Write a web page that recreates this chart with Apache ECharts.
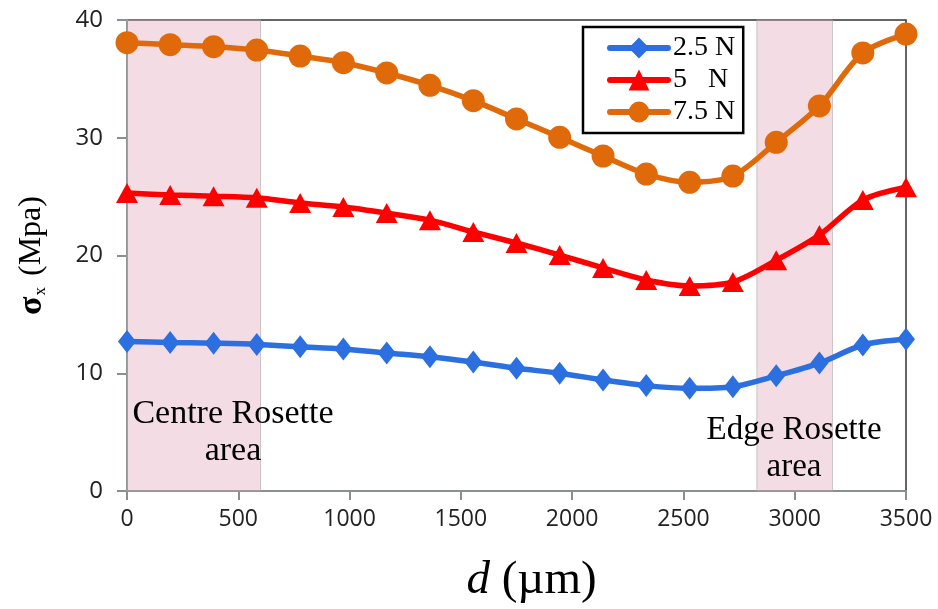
<!DOCTYPE html>
<html>
<head>
<meta charset="utf-8">
<script src="https://cdn.jsdelivr.net/npm/echarts@6/dist/echarts.min.js"></script>
<style>
  html, body { margin: 0; padding: 0; background: #fff; }
  #chart { width: 938px; height: 609px; }
</style>
</head>
<body>
<div id="chart"></div>
<script>
// Distance from the centre (µm)
const distance = [0, 194, 389, 583, 778, 972, 1167, 1361, 1556, 1750, 1944, 2139, 2333, 2528, 2722, 2917, 3111, 3306, 3500];

// σx (MPa) for each applied load
const load25 = [12.7, 12.62, 12.55, 12.45, 12.25, 12.06, 11.72, 11.4, 10.95, 10.42, 10.0, 9.43, 8.95, 8.72, 8.86, 9.78, 10.86, 12.4, 12.88];
const load5 = [25.31, 25.14, 25.04, 24.9, 24.46, 24.12, 23.6, 23.0, 22.0, 21.06, 20.04, 18.94, 17.92, 17.41, 17.75, 19.6, 21.74, 24.71, 25.8];
const load75 = [38.07, 37.9, 37.73, 37.45, 36.94, 36.37, 35.5, 34.45, 33.15, 31.6, 30.04, 28.45, 26.92, 26.22, 26.75, 29.61, 32.7, 37.2, 38.81];

const seriesNames = ['2.5 N', '5   N', '7.5 N'];

// Shaded rosette regions along d (µm)
const bands = [[0, 600], [2830, 3170]];
const bandLabels = [
  { text: 'Centre Rosette\narea', at: [476, 5.0], size: 34 },
  { text: 'Edge Rosette\narea', at: [2997, 3.6], size: 33 }
];

const serif = "'Liberation Serif', 'DejaVu Serif', serif";
const sans = "'Open Sans', 'Noto Sans', sans-serif";

const pair = (xs, ys) => xs.map((x, i) => [x, ys[i]]);

const chart = echarts.init(document.getElementById('chart'), null, { renderer: 'canvas' });

function lineSeries(name, values, color, symbol, size) {
  return {
    name: name,
    type: 'line',
    data: pair(distance, values),
    smooth: 0.3,
    symbol: symbol,
    symbolSize: size,
    showAllSymbol: true,
    lineStyle: { color: color, width: 5.5 },
    itemStyle: { color: color },
    z: 3
  };
}

chart.setOption({
  animation: false,
  backgroundColor: '#ffffff',
  grid: {
    left: 127, right: 32, top: 20, bottom: 118,
    show: true, borderColor: '#333', borderWidth: 1.5,
    backgroundColor: 'transparent'
  },
  legend: {
    data: seriesNames,
    orient: 'vertical',
    left: 583, top: 27,
    width: 160,
    padding: [7, 8, 7, 24],
    itemGap: 4,
    itemWidth: 58, itemHeight: 26,
    backgroundColor: '#fff',
    borderColor: '#000', borderWidth: 2.5,
    lineStyle: { width: 6, cap: 'round' },
    textStyle: { fontFamily: serif, fontSize: 28, color: '#000' }
  },
  xAxis: {
    type: 'value',
    min: 0, max: 3500, interval: 500,
    name: '{i|d} (µm)',
    nameLocation: 'middle',
    nameGap: 66,
    nameTextStyle: {
      fontFamily: serif, fontSize: 47, color: '#000',
      padding: [0, 0, 0, 30],
      rich: { i: { fontFamily: serif, fontSize: 47, fontStyle: 'italic', color: '#000' } }
    },
    axisLine: { show: true, lineStyle: { color: '#8a9090', width: 2 } },
    axisTick: { show: true, length: 9, lineStyle: { color: '#8a9090', width: 2 } },
    axisLabel: { fontFamily: sans, fontSize: 23, color: '#222', margin: 17, formatter: v => String(v) },
    splitLine: { show: false }
  },
  yAxis: {
    type: 'value',
    min: 0, max: 40, interval: 10,
    name: '{s|σ}{sub|x} (Mpa)',
    nameLocation: 'middle',
    nameRotate: 90,
    nameGap: 78,
    nameTextStyle: {
      fontFamily: serif, fontSize: 32, color: '#000',
      rich: {
        s: { fontFamily: serif, fontSize: 34, fontWeight: 'bold', color: '#000' },
        sub: { fontFamily: serif, fontSize: 17, color: '#000', verticalAlign: 'bottom', padding: [16, 3, 0, 1] }
      }
    },
    axisLine: { show: true, lineStyle: { color: '#8a9090', width: 2 } },
    axisTick: { show: true, length: 10, lineStyle: { color: '#8a9090', width: 2 } },
    axisLabel: { fontFamily: sans, fontSize: 24, color: '#222', margin: 24 },
    splitLine: { show: false }
  },
  series: [
    lineSeries(seriesNames[0], load25, '#2b6fe0', 'diamond', [18, 23]),
    lineSeries(seriesNames[1], load5, '#ff0000', 'triangle', [22, 20]),
    lineSeries(seriesNames[2], load75, '#e06a0a', 'circle', 23),
    {
      name: 'bands',
      type: 'line',
      data: [],
      z: 5,
      silent: true,
      markArea: {
        silent: true,
        itemStyle: { color: 'rgba(222,150,172,0.33)', borderColor: 'rgba(170,170,170,0.6)', borderWidth: 1 },
        data: bands.map(b => [{ xAxis: b[0] }, { xAxis: b[1] }])
      }
    },
    {
      name: 'notes',
      type: 'line',
      data: [],
      z: 6,
      silent: true,
      markPoint: {
        silent: true,
        symbol: 'rect',
        symbolSize: 1,
        itemStyle: { color: 'rgba(0,0,0,0)' },
        data: bandLabels.map(l => ({
          name: l.text,
          coord: l.at,
          label: {
            show: true,
            position: 'inside',
            fontFamily: serif, fontSize: l.size, lineHeight: 37, color: '#000', align: 'center',
            formatter: p => p.name
          }
        }))
      }
    }
  ]
});
</script>
</body>
</html>
